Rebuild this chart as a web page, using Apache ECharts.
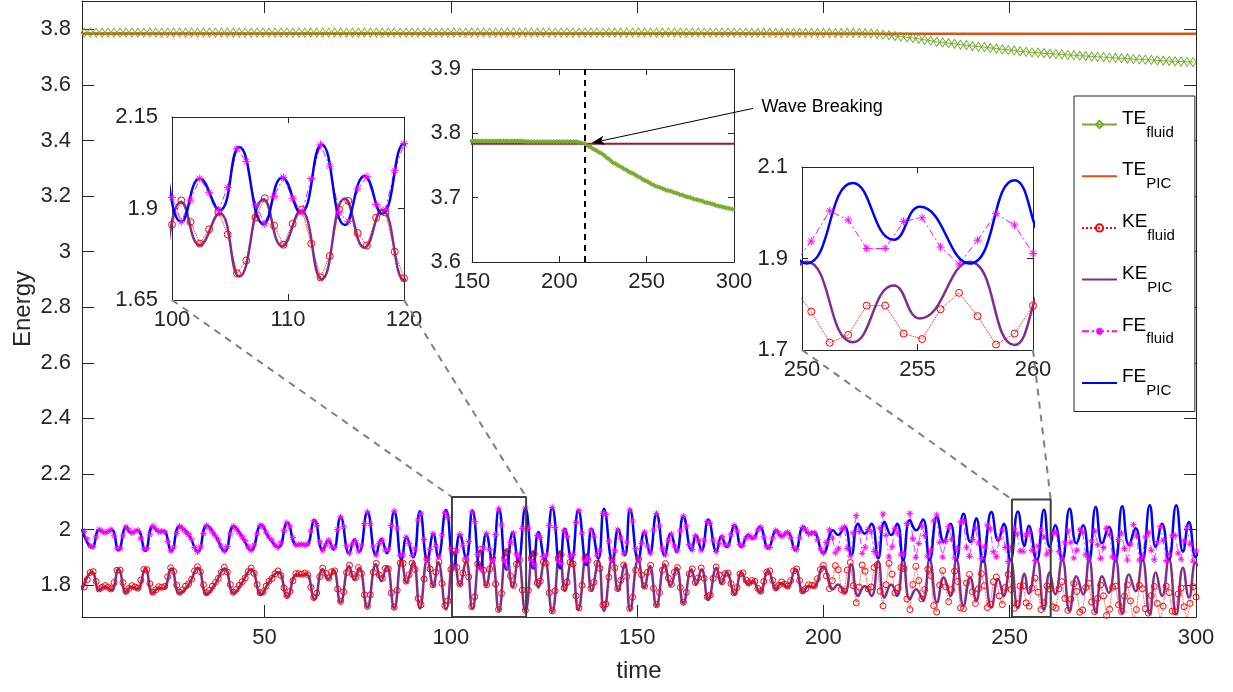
<!DOCTYPE html>
<html>
<head>
<meta charset="utf-8">
<script src="https://cdn.jsdelivr.net/npm/echarts@6.0.0/dist/echarts.min.js"></script>
<style>
html,body{margin:0;padding:0;background:#fff;}
#chart{width:1233px;height:692px;}
</style>
</head>
<body>
<div id="chart"></div>
<script>
// ================= DATA =================
// PIC curves: times of turning points and values there
const tPic = [1.0,3.7,5.65,7.1,8.9,10.8,12.9,14.2,15.9,18.0,
20.0,21.75,22.9,25.0,27.2,29.6,32.1,34.5,36.8,39.3,
41.7,43.9,46.4,49.1,51.1,53.7,56.1,58.6,59.9,61.2,
63.4,65.6,67.1,68.5,70.4,72.7,74.1,75.4,77.6,79.9,
81.3,82.8,84.8,86.8,88.1,89.9,91.7,93.7,95.3,96.6,
98.7,100.8,102.4,104.1,105.8,107.9,109.5,111.1,112.9,114.9,
116.6,118.1,120.0,122.1,123.5,125.2,127.2,129.3,130.6,132.4,
134.2,136.4,137.8,139.6,141.1,143.4,144.9,146.7,148.1,150.3,
151.9,153.4,155.2,157.4,159.0,160.6,162.4,164.6,165.8,167.3,
169.1,171.3,172.6,174.0,176.2,178.0,179.8,181.1,182.9,185.2,
187.4,188.7,190.3,192.5,194.6,196.0,197.3,200.0,202.6,203.9,
205.7,207.5,209.3,211.1,212.9,214.7,216.4,218.2,219.8,221.4,
223.2,224.9,226.7,228.5,230.5,232.3,234.1,235.7,237.6,239.4,
241.0,242.8,245.1,246.9,248.4,250.2,252.2,253.97,255.1,257.26,
259.2,260.7,262.2,264.1,266.1,267.9,269.7,271.3,273.1,274.8,
276.6,278.4,280.2,282.0,283.8,285.6,287.6,289.2,290.9,292.7,
294.7,296.5,298.1,299.9,300.5];
const fePic = [2.0,1.935,2.0,1.988,2.0,1.925,2.01,1.988,1.997,1.923,
2.012,1.992,1.995,1.922,2.012,1.982,1.92,2.015,1.977,1.922,
2.012,1.975,1.925,2.017,1.972,1.935,2.024,1.943,1.947,1.942,
2.033,1.925,1.961,1.928,2.045,1.914,1.964,1.92,2.063,1.907,
1.967,1.914,2.066,1.89,1.973,1.9,2.066,1.89,1.985,1.9,
2.07,1.864,1.982,1.895,2.068,1.857,1.985,1.888,2.075,1.855,
1.989,1.885,2.077,1.86,1.991,1.89,2.079,1.86,2.003,1.89,
2.07,1.872,2.003,1.895,2.075,1.884,2.0,1.907,2.072,1.89,
1.991,1.913,2.057,1.907,1.985,1.92,2.048,1.925,1.98,1.925,
2.036,1.92,1.976,1.937,2.015,1.937,1.98,1.967,2.01,1.932,
1.997,1.975,1.99,1.925,2.01,1.985,1.99,1.915,1.997,1.98,
2.01,1.908,2.021,1.985,2.021,1.896,2.027,1.98,2.021,1.89,
2.033,1.997,2.036,1.89,2.045,1.955,2.021,1.89,2.057,1.955,
2.04,1.884,2.063,1.96,2.021,1.889,2.065,1.941,2.013,1.889,
2.071,1.937,2.015,1.889,2.075,1.95,2.015,1.889,2.081,1.95,
2.01,1.889,2.084,1.944,2.004,1.889,2.087,1.937,2.021,1.889,
2.087,1.92,2.027,1.9,1.915];
const kePic = [1.782,1.847,1.782,1.794,1.782,1.857,1.772,1.794,1.785,1.859,
1.77,1.79,1.787,1.86,1.77,1.8,1.862,1.767,1.805,1.86,
1.77,1.807,1.857,1.765,1.81,1.847,1.758,1.839,1.835,1.84,
1.749,1.857,1.821,1.854,1.737,1.868,1.818,1.862,1.719,1.875,
1.815,1.868,1.716,1.892,1.809,1.882,1.716,1.892,1.797,1.882,
1.712,1.918,1.8,1.887,1.714,1.925,1.797,1.894,1.707,1.927,
1.793,1.897,1.705,1.922,1.791,1.892,1.703,1.922,1.779,1.892,
1.712,1.91,1.779,1.887,1.707,1.898,1.782,1.875,1.71,1.892,
1.791,1.869,1.725,1.875,1.797,1.862,1.734,1.857,1.802,1.857,
1.746,1.862,1.806,1.845,1.767,1.845,1.802,1.815,1.772,1.85,
1.785,1.807,1.792,1.857,1.772,1.797,1.792,1.867,1.785,1.802,
1.772,1.874,1.761,1.797,1.761,1.886,1.755,1.802,1.761,1.892,
1.749,1.785,1.746,1.892,1.737,1.827,1.761,1.892,1.725,1.827,
1.742,1.898,1.719,1.822,1.761,1.893,1.717,1.841,1.769,1.893,
1.711,1.845,1.767,1.893,1.707,1.832,1.767,1.893,1.701,1.832,
1.772,1.893,1.698,1.838,1.778,1.893,1.695,1.845,1.761,1.893,
1.695,1.862,1.755,1.882,1.867];
const tePicT = [1, 300];
const tePic = [3.784, 3.784];

// fluid samples every 0.8 time units, starting at t = 0.8
const fluidStep = 0.8;
const feFluid = [2.0,1.993,1.966,1.941,1.938,1.973,2.0,1.994,1.988,1.994,
2.0,1.977,1.933,1.932,1.977,2.009,1.998,1.988,1.993,1.997,
1.968,1.93,1.931,1.981,2.012,2.003,1.992,1.994,1.991,1.956,
1.924,1.937,1.986,2.012,2.003,1.99,1.982,1.965,1.935,1.92,
1.938,1.985,2.014,2.005,1.99,1.977,1.962,1.94,1.922,1.939,
1.984,2.012,2.002,1.987,1.974,1.96,1.938,1.925,1.944,1.984,
2.014,2.01,1.99,1.972,1.962,1.945,1.935,1.952,1.996,2.024,
2.009,1.971,1.945,1.945,1.947,1.943,1.949,1.994,2.031,2.015,
1.956,1.925,1.944,1.961,1.938,1.935,2.0,2.045,2.01,1.941,
1.915,1.947,1.959,1.923,1.944,2.021,2.063,2.021,1.94,1.908,
1.95,1.962,1.926,1.928,2.014,2.066,2.005,1.907,1.908,1.972,
1.949,1.907,1.93,2.034,2.057,1.964,1.891,1.928,1.985,1.94,
1.902,1.98,2.06,2.043,1.93,1.864,1.923,1.982,1.943,1.896,
1.957,2.063,2.028,1.91,1.858,1.933,1.985,1.928,1.889,1.982,
2.074,2.016,1.888,1.865,1.953,1.987,1.911,1.897,2.004,2.077,
2.005,1.888,1.873,1.978,1.972,1.903,1.908,2.014,2.079,2.007,
1.889,1.877,1.996,1.975,1.904,1.91,2.025,2.068,1.987,1.888,
1.897,1.998,1.976,1.908,1.926,2.058,2.054,1.958,1.889,1.924,
1.999,1.969,1.914,1.955,2.07,2.03,1.932,1.891,1.95,1.99,
1.94,1.915,1.998,2.057,2.013,1.932,1.909,1.961,1.984,1.94,
1.923,1.995,2.048,2.012,1.946,1.928,1.977,1.96,1.925,1.962,
2.028,2.022,1.962,1.921,1.95,1.974,1.945,1.943,1.981,2.014,
1.995,1.946,1.942,1.968,1.979,1.97,1.973,1.998,2.008,1.973,
1.939,1.935,1.969,1.996,1.987,1.975,1.983,1.99,1.97,1.935,
1.928,1.97,2.007,2.0,1.985,1.987,1.988,1.963,1.93,1.915,
1.953,1.999,1.97,1.916,1.931,2.002,2.009,1.932,1.905,1.988,
2.05,1.993,1.914,1.936,2.0,1.992,1.921,1.911,2.005,2.056,
1.979,1.901,1.938,2.004,1.985,1.911,1.913,2.021,2.058,1.967,
1.9,1.95,2.013,1.978,1.903,1.925,2.031,2.052,1.954,1.901,
1.957,2.01,1.965,1.898,1.933,2.027,2.029,1.936,1.903,1.964,
2.005,1.952,1.896,1.938,2.016,2.002,1.92,1.902,1.968,1.998,
1.935,1.884,1.938,2.004,1.984,1.922,1.922,1.981,1.989,1.925,
1.888,1.94,1.998,1.973,1.911,1.923,1.985,1.99,1.92,1.893,
1.952,1.995,1.954,1.897,1.925,1.999,1.99,1.909,1.893,1.959,
1.994,1.945,1.896,1.935,2.004,1.982,1.902,1.897,1.964,1.987,
1.931,1.89,1.947,2.017,1.977,1.89,1.901,1.973,1.988,1.925,
1.891,1.952,2.01,1.961,1.888,1.911,1.977,1.979,1.915,1.893,
1.96,2.005,1.947,1.886,1.923];
const keFluid = [1.786,1.793,1.82,1.845,1.848,1.813,1.786,1.792,1.798,1.792,
1.786,1.809,1.853,1.854,1.809,1.777,1.788,1.798,1.793,1.789,
1.818,1.856,1.855,1.805,1.774,1.783,1.794,1.792,1.795,1.83,
1.862,1.849,1.8,1.774,1.783,1.796,1.804,1.821,1.851,1.866,
1.848,1.801,1.772,1.781,1.796,1.809,1.824,1.846,1.864,1.847,
1.802,1.774,1.784,1.799,1.812,1.826,1.848,1.861,1.842,1.802,
1.772,1.776,1.796,1.814,1.824,1.841,1.851,1.834,1.79,1.762,
1.777,1.815,1.841,1.841,1.839,1.843,1.837,1.792,1.755,1.771,
1.83,1.861,1.842,1.825,1.848,1.851,1.786,1.741,1.776,1.845,
1.871,1.839,1.827,1.863,1.842,1.765,1.723,1.765,1.846,1.878,
1.836,1.824,1.86,1.858,1.772,1.72,1.781,1.879,1.878,1.814,
1.837,1.879,1.856,1.752,1.729,1.822,1.895,1.858,1.801,1.846,
1.884,1.806,1.726,1.743,1.856,1.922,1.863,1.804,1.843,1.89,
1.829,1.723,1.758,1.876,1.928,1.853,1.801,1.858,1.897,1.804,
1.712,1.77,1.898,1.921,1.833,1.799,1.875,1.889,1.782,1.709,
1.781,1.898,1.913,1.808,1.814,1.883,1.878,1.772,1.707,1.779,
1.897,1.909,1.79,1.811,1.882,1.876,1.761,1.718,1.799,1.898,
1.889,1.788,1.81,1.878,1.86,1.728,1.732,1.828,1.897,1.862,
1.787,1.817,1.872,1.831,1.716,1.756,1.854,1.895,1.836,1.796,
1.846,1.871,1.788,1.729,1.773,1.854,1.877,1.825,1.802,1.846,
1.863,1.791,1.738,1.774,1.84,1.858,1.809,1.826,1.861,1.824,
1.758,1.764,1.824,1.865,1.836,1.812,1.841,1.843,1.805,1.772,
1.791,1.84,1.844,1.818,1.807,1.816,1.813,1.788,1.778,1.813,
1.847,1.851,1.817,1.79,1.799,1.811,1.803,1.796,1.816,1.851,
1.858,1.816,1.779,1.786,1.801,1.799,1.798,1.823,1.856,1.871,
1.833,1.787,1.816,1.87,1.855,1.784,1.777,1.854,1.881,1.798,
1.736,1.793,1.872,1.85,1.786,1.793,1.863,1.873,1.778,1.725,
1.801,1.878,1.839,1.772,1.79,1.863,1.859,1.75,1.712,1.802,
1.867,1.816,1.75,1.784,1.857,1.834,1.726,1.703,1.8,1.852,
1.794,1.74,1.784,1.85,1.813,1.718,1.715,1.807,1.838,1.776,
1.734,1.786,1.841,1.798,1.719,1.731,1.812,1.829,1.761,1.73,
1.791,1.838,1.784,1.716,1.733,1.797,1.797,1.736,1.724,1.789,
1.825,1.774,1.712,1.736,1.797,1.785,1.722,1.717,1.786,1.812,
1.752,1.709,1.749,1.805,1.777,1.702,1.71,1.791,1.806,1.739,
1.704,1.752,1.8,1.761,1.691,1.713,1.792,1.796,1.729,1.705,
1.76,1.801,1.743,1.673,1.712,1.799,1.787,1.715,1.699,1.762,
1.795,1.734,1.675,1.724,1.796,1.773,1.706,1.704,1.768,1.789,
1.722,1.676,1.734,1.794,1.757];
// total energy (fluid) samples every 1.6 time units, starting at t = 1.6
const teFluidStep = 1.6;
const teFluid = [3.788,3.788,3.788,3.788,3.788,3.788,3.788,3.788,3.788,3.788,
3.788,3.788,3.788,3.788,3.788,3.788,3.788,3.788,3.788,3.788,
3.788,3.788,3.788,3.788,3.788,3.788,3.788,3.788,3.788,3.788,
3.788,3.788,3.788,3.788,3.788,3.788,3.788,3.788,3.788,3.788,
3.788,3.788,3.788,3.788,3.788,3.788,3.788,3.788,3.788,3.788,
3.788,3.788,3.788,3.788,3.788,3.788,3.788,3.788,3.788,3.788,
3.788,3.788,3.788,3.788,3.788,3.788,3.788,3.788,3.788,3.788,
3.788,3.788,3.788,3.788,3.788,3.788,3.788,3.788,3.788,3.788,
3.788,3.788,3.788,3.788,3.788,3.788,3.788,3.788,3.788,3.788,
3.788,3.788,3.788,3.788,3.788,3.788,3.788,3.788,3.788,3.788,
3.788,3.788,3.788,3.788,3.788,3.788,3.788,3.788,3.788,3.788,
3.788,3.788,3.787,3.787,3.787,3.787,3.787,3.787,3.787,3.787,
3.787,3.787,3.787,3.787,3.787,3.787,3.787,3.787,3.787,3.787,
3.787,3.786,3.785,3.784,3.781,3.779,3.776,3.774,3.771,3.769,
3.766,3.762,3.759,3.755,3.753,3.75,3.748,3.745,3.743,3.74,
3.738,3.736,3.733,3.731,3.728,3.726,3.724,3.721,3.719,3.717,
3.716,3.714,3.712,3.711,3.71,3.708,3.707,3.705,3.704,3.702,
3.701,3.7,3.698,3.697,3.696,3.695,3.693,3.692,3.691,3.69,
3.688,3.687,3.686,3.685,3.684,3.683,3.682];

const legendNames = ['TE_fluid','TE_PIC','KE_fluid','KE_PIC','FE_fluid','FE_PIC'];
const mainXTicks = [50,100,150,200,250,300];
const mainYTicks = [1.8,2,2.2,2.4,2.6,2.8,3,3.2,3.4,3.6,3.8];
const inset1XTicks = [100,110,120];
const inset1YTicks = [1.65,1.9,2.15];
const inset2XTicks = [150,200,250,300];
const inset2YTicks = [3.6,3.7,3.8,3.9];
const inset3XTicks = [250,255,260];
const inset3YTicks = [1.7,1.9,2.1];
const waveBreakT = 214.5;
const arrowTip = [218.4, 3.785];
const zoomBox1 = [100.3, 120.2, 2.117];
const zoomBox2 = [250.6, 261.0, 2.108];

// ================= BUILD =================
const FONT = '"Liberation Sans", Arial, Helvetica, sans-serif';
const AX = '#262626';
const NOFILL = 'rgba(0,0,0,0)';
const STAR = 'path://M0,-10L0,10M-10,0L10,0M-7.07,-7.07L7.07,7.07M-7.07,7.07L7.07,-7.07';
const C = {teF:'#77AC30', teP:'#D95319', keF:'#FF0000', keP:'#7E2F8E', feF:'#FF00FF', feP:'#0000FF', teP2:'#A2142F'};

const pairs = (ts, vs) => vs.map((v, i) => [ts[i], v]);
const stepped = (step, vs) => vs.map((v, i) => [Math.round(step * (i + 1) * 100) / 100, v]);
const fePicData = pairs(tPic, fePic);
const kePicData = pairs(tPic, kePic);
const tePicData = pairs(tePicT, tePic);
const feFluidData = stepped(fluidStep, feFluid);
const keFluidData = stepped(fluidStep, keFluid);
const teFluidData = stepped(teFluidStep, teFluid);

const fmt = v => String(+(+v).toFixed(3));

function axisDef(gi, min, max, ticks, pos, showLabel, tickLen, margin) {
  return {type:'value', gridIndex:gi, min:min, max:max, position:pos,
    axisLine:{show:true, onZero:false, lineStyle:{color:AX, width:1}},
    axisTick:{show:true, inside:true, length:tickLen, customValues:ticks, lineStyle:{color:AX, width:1}},
    axisLabel:{show:showLabel, customValues:ticks, margin:margin, fontSize:22, fontFamily:FONT, color:AX, formatter:fmt},
    splitLine:{show:false}, splitArea:{show:false}};
}

const xAxes = [
  axisDef(0,1,300,mainXTicks,'bottom',true,12,10),
  axisDef(0,1,300,mainXTicks,'top',false,12,10),
  axisDef(1,100,120,inset1XTicks,'bottom',true,6,9),
  axisDef(1,100,120,inset1XTicks,'top',false,6,9),
  axisDef(2,150,300,inset2XTicks,'bottom',true,6,9),
  axisDef(2,150,300,inset2XTicks,'top',false,6,9),
  axisDef(3,250,260,inset3XTicks,'bottom',true,6,9),
  axisDef(3,250,260,inset3XTicks,'top',false,6,9)
];
const yAxes = [
  axisDef(0,1.685,3.902,mainYTicks,'left',true,12,11),
  axisDef(0,1.685,3.902,mainYTicks,'right',false,12,11),
  axisDef(1,1.65,2.15,inset1YTicks,'left',true,6,14),
  axisDef(1,1.65,2.15,inset1YTicks,'right',false,6,14),
  axisDef(2,3.6,3.9,inset2YTicks,'left',true,6,11),
  axisDef(2,3.6,3.9,inset2YTicks,'right',false,6,11),
  axisDef(3,1.7,2.1,inset3YTicks,'left',true,6,14),
  axisDef(3,1.7,2.1,inset3YTicks,'right',false,6,14)
];
Object.assign(xAxes[0], {name:'time', nameLocation:'middle', nameGap:42, nameMoveOverlap:false,
  nameTextStyle:{fontSize:24, fontFamily:FONT, color:AX}});
Object.assign(yAxes[0], {name:'Energy', nameLocation:'middle', nameGap:47, nameRotate:90, nameMoveOverlap:false,
  nameTextStyle:{fontSize:24, fontFamily:FONT, color:AX}});

function base(name, ai, data) {
  return {name:name, type:'line', xAxisIndex:ai, yAxisIndex:ai, data:data, animation:false,
    silent:true, emphasis:{disabled:true}, clip:true};
}
function markerLine(name, ai, data, color, symbol, size, lineType, lineWidth) {
  return Object.assign(base(name, ai, data), {symbol:symbol, symbolSize:size, showSymbol:true,
    itemStyle:{color:NOFILL, borderColor:color, borderWidth:1},
    lineStyle:{color:color, width:lineWidth, type:lineType}});
}
function plainLine(name, ai, data, color, width, smooth) {
  return Object.assign(base(name, ai, data), {symbol:'none', showSymbol:false, smooth:smooth || false,
    itemStyle:{color:color}, lineStyle:{color:color, width:width}});
}
function boxSeries(box) {
  const x0 = box[0], x1 = box[1], yt = box[2], yb = yAxes[0].min;
  return Object.assign(base('box', 0, [[x0, yb], [x0, yt], [x1, yt], [x1, yb], [x0, yb]]),
    {symbol:'none', showSymbol:false, clip:false, lineStyle:{color:'#404040', width:2}, itemStyle:{color:'#404040'}, z:5});
}

const series = [
  markerLine('TE_fluid', 0, teFluidData, C.teF, 'diamond', [6, 9], 'solid', 1),
  plainLine('TE_PIC', 0, tePicData, C.teP, 2.5),
  markerLine('KE_fluid', 0, keFluidData, C.keF, 'circle', 6, 'dotted', 0.8),
  plainLine('KE_PIC', 0, kePicData, C.keP, 2.5, 0.5),
  markerLine('FE_fluid', 0, feFluidData, C.feF, STAR, 6.5, [7, 3, 2, 3], 0.8),
  plainLine('FE_PIC', 0, fePicData, C.feP, 2.5, 0.5),
  boxSeries(zoomBox1),
  boxSeries(zoomBox2),
  // inset 1
  markerLine('KE_fluid', 2, keFluidData, C.keF, 'circle', 7, 'dotted', 1),
  plainLine('KE_PIC', 2, kePicData, C.keP, 2.5, 0.5),
  markerLine('FE_fluid', 2, feFluidData, C.feF, STAR, 8, [7, 3, 2, 3], 1),
  plainLine('FE_PIC', 2, fePicData, C.feP, 2.5, 0.5),
  // inset 2
  markerLine('TE_fluid', 4, teFluidData, C.teF, STAR, 5, 'solid', 3),
  Object.assign(plainLine('TE_PIC', 4, tePicData, C.teP2, 2), {
    markLine:{silent:true, symbol:'none', animation:false, label:{show:false},
      lineStyle:{color:'#000', width:2, type:[6, 5]}, data:[{xAxis:waveBreakT}]}}),
  // inset 3
  markerLine('KE_fluid', 6, keFluidData, C.keF, 'circle', 7, 'dotted', 1),
  plainLine('KE_PIC', 6, kePicData, C.keP, 2.5, 0.5),
  markerLine('FE_fluid', 6, feFluidData, C.feF, STAR, 8, [7, 3, 2, 3], 1),
  plainLine('FE_PIC', 6, fePicData, C.feP, 2.5, 0.5)
];

const picNames = ['TE_PIC', 'KE_PIC', 'FE_PIC'];
const legendData = legendNames.map(n => picNames.indexOf(n) >= 0
  ? {name:n, itemStyle:{opacity:0, borderWidth:0}} : {name:n});

const gridCommon = {containLabel:false, outerBoundsMode:'none'};
const option = {
  backgroundColor:'#fff',
  animation:false,
  grid:[
    Object.assign({left:82, top:1, width:1114, height:616, show:false}, gridCommon),
    Object.assign({left:172, top:117, width:232, height:183, show:true, backgroundColor:'#fff', borderWidth:0}, gridCommon),
    Object.assign({left:472, top:69, width:262, height:193, show:true, backgroundColor:'#fff', borderWidth:0}, gridCommon),
    Object.assign({left:802, top:167, width:231, height:183, show:true, backgroundColor:'#fff', borderWidth:0}, gridCommon)
  ],
  xAxis:xAxes,
  yAxis:yAxes,
  legend:{
    data:legendData, orient:'vertical', left:1074, top:96,
    padding:[13, 20, 13, 7], itemGap:20.7, itemWidth:35, itemHeight:9,
    backgroundColor:'#fff', borderColor:AX, borderWidth:1, borderRadius:0,
    selectedMode:false,
    formatter:function (name) { const p = name.split('_'); return '{m|' + p[0] + '}{s|' + p[1] + '}'; },
    textStyle:{fontFamily:FONT, color:'#000',
      rich:{
        m:{fontSize:19, lineHeight:19, padding:[0, 0, 12, 0], fontFamily:FONT, color:'#000', verticalAlign:'middle'},
        s:{fontSize:15, lineHeight:15, padding:[16, 0, 0, 0], fontFamily:FONT, color:'#000', verticalAlign:'middle'}
      }}
  },
  series:series
};

const chart = echarts.init(document.getElementById('chart'), null, {renderer:'canvas', width:1233, height:692});
chart.setOption(option);

// connector lines and annotation, positioned through the axes
const px = (gi, pt) => chart.convertToPixel({gridIndex:gi}, pt);
const dash = {stroke:'#808080', lineWidth:2, lineDash:[7, 6]};
const conn = (a, b) => ({type:'line', silent:true, z:4, shape:{x1:a[0], y1:a[1], x2:b[0], y2:b[1]}, style:dash});
const c1a = px(1, [inset1XTicks[0], inset1YTicks[0]]), c1b = px(0, [zoomBox1[0], zoomBox1[2]]);
const c2a = px(1, [inset1XTicks[2], inset1YTicks[0]]), c2b = px(0, [zoomBox1[1], zoomBox1[2]]);
const c3a = px(3, [inset3XTicks[0], inset3YTicks[0]]), c3b = px(0, [zoomBox2[0], zoomBox2[2]]);
const c4a = px(3, [inset3XTicks[2], inset3YTicks[0]]), c4b = px(0, [zoomBox2[1], zoomBox2[2]]);
const tip = px(2, arrowTip);
const tail = [tip[0] + 161.6, tip[1] - 34.6];
const dx = tip[0] - tail[0], dy = tip[1] - tail[1], L = Math.hypot(dx, dy);
const ux = dx / L, uy = dy / L, nx = -uy, ny = ux;
const hb = [tip[0] - ux * 13, tip[1] - uy * 13];
chart.setOption({graphic:[
  conn(c1a, c1b), conn(c2a, c2b), conn(c3a, c3b), conn(c4a, c4b),
  {type:'line', silent:true, z:20, shape:{x1:tail[0], y1:tail[1], x2:hb[0] + ux * 3, y2:hb[1] + uy * 3}, style:{stroke:'#000', lineWidth:1}},
  {type:'polygon', silent:true, z:20, shape:{points:[[tip[0], tip[1]], [hb[0] + nx * 4.5, hb[1] + ny * 4.5], [hb[0] + ux * 3, hb[1] + uy * 3], [hb[0] - nx * 4.5, hb[1] - ny * 4.5]]}, style:{fill:'#000'}},
  {type:'text', silent:true, z:20, x:tail[0] + 8.4, y:tail[1] - 1.7,
    style:{text:'Wave Breaking', font:'18px ' + FONT, fill:'#000', align:'left', verticalAlign:'middle', textAlign:'left', textVerticalAlign:'middle'}}
]});
</script>
</body>
</html>
